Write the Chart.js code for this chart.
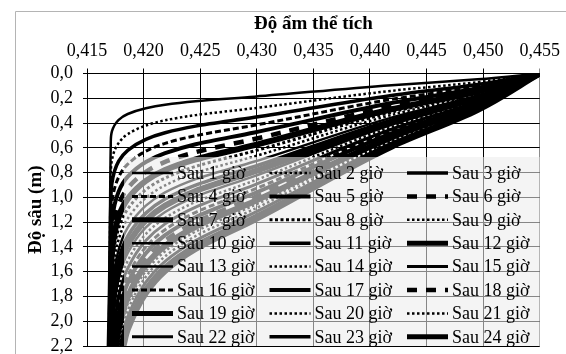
<!DOCTYPE html>
<html>
<head>
<meta charset="utf-8">
<script src="https://cdn.jsdelivr.net/npm/chart.js@4.4.0/dist/chart.umd.min.js"></script>
<style>
  html, body { margin: 0; padding: 0; background: #fff; }
</style>
</head>
<body>
<canvas id="myChart" width="566" height="354"></canvas>
<script>
// series names
const hours = [1, 2, 3, 4, 5, 6, 7, 8, 9, 10, 11, 12, 13, 14, 15, 16, 17, 18, 19, 20, 21, 22, 23, 24];

// depth (m) of each point, one list per series
const depths = [
  [0, 0.047, 0.094, 0.187, 0.224, 0.252, 0.281, 0.327, 0.374, 0.468, 0.561, 2.2],
  [0, 0.070, 0.140, 0.280, 0.336, 0.378, 0.420, 0.490, 0.560, 0.700, 0.840, 2.2],
  [0, 0.089, 0.177, 0.354, 0.425, 0.478, 0.531, 0.620, 0.708, 0.885, 1.062, 2.2],
  [0, 0.105, 0.209, 0.418, 0.502, 0.564, 0.627, 0.732, 0.836, 1.045, 1.254, 2.2],
  [0, 0.119, 0.238, 0.476, 0.571, 0.643, 0.714, 0.833, 0.952, 1.190, 1.428, 2.2],
  [0, 0.132, 0.265, 0.529, 0.635, 0.714, 0.794, 0.926, 1.058, 1.323, 1.587, 2.2],
  [0, 0.145, 0.289, 0.578, 0.694, 0.780, 0.867, 1.012, 1.156, 1.445, 1.734, 2.2],
  [0, 0.156, 0.313, 0.625, 0.750, 0.844, 0.938, 1.094, 1.250, 1.563, 1.875, 2.2],
  [0, 0.167, 0.335, 0.669, 0.803, 0.903, 1.004, 1.171, 1.338, 1.673, 2.007, 2.2],
  [0, 0.178, 0.356, 0.711, 0.853, 0.960, 1.067, 1.244, 1.422, 1.778, 2.133, 2.2],
  [0, 0.188, 0.376, 0.751, 0.901, 1.014, 1.127, 1.314, 1.502, 1.878, 2.2],
  [0, 0.198, 0.395, 0.790, 0.948, 1.067, 1.185, 1.383, 1.580, 1.975, 2.2],
  [0, 0.207, 0.414, 0.828, 0.994, 1.118, 1.242, 1.449, 1.656, 2.070, 2.2],
  [0, 0.216, 0.432, 0.864, 1.037, 1.166, 1.296, 1.512, 1.728, 2.160, 2.2],
  [0, 0.225, 0.450, 0.899, 1.079, 1.214, 1.349, 1.573, 1.798, 2.2],
  [0, 0.234, 0.467, 0.934, 1.121, 1.261, 1.401, 1.635, 1.868, 2.2],
  [0, 0.242, 0.484, 0.967, 1.160, 1.305, 1.451, 1.692, 1.934, 2.2],
  [0, 0.250, 0.500, 1.000, 1.200, 1.350, 1.500, 1.750, 2.000, 2.2],
  [0, 0.258, 0.516, 1.031, 1.237, 1.392, 1.547, 1.804, 2.062, 2.2],
  [0, 0.266, 0.532, 1.063, 1.276, 1.435, 1.595, 1.860, 2.126, 2.2],
  [0, 0.273, 0.547, 1.093, 1.312, 1.476, 1.640, 1.913, 2.2],
  [0, 0.281, 0.562, 1.123, 1.348, 1.516, 1.685, 1.965, 2.2],
  [0, 0.288, 0.576, 1.152, 1.382, 1.555, 1.728, 2.016, 2.2],
  [0, 0.295, 0.591, 1.181, 1.417, 1.594, 1.772, 2.067, 2.2]
];

// volumetric moisture at those depths
const moisture = [
  [0.455, 0.4495, 0.4419, 0.4298, 0.4246, 0.4219, 0.4202, 0.4186, 0.4178, 0.4172, 0.4171, 0.4170],
  [0.455, 0.4495, 0.4419, 0.4298, 0.4246, 0.4219, 0.4202, 0.4186, 0.4178, 0.4172, 0.4171, 0.4170],
  [0.455, 0.4495, 0.4419, 0.4298, 0.4246, 0.4219, 0.4202, 0.4186, 0.4178, 0.4172, 0.4171, 0.4170],
  [0.455, 0.4495, 0.4419, 0.4298, 0.4246, 0.4219, 0.4202, 0.4186, 0.4178, 0.4172, 0.4171, 0.4170],
  [0.455, 0.4495, 0.4419, 0.4298, 0.4246, 0.4219, 0.4202, 0.4186, 0.4178, 0.4172, 0.4171, 0.4170],
  [0.455, 0.4495, 0.4419, 0.4298, 0.4246, 0.4219, 0.4202, 0.4186, 0.4178, 0.4172, 0.4171, 0.4170],
  [0.455, 0.4495, 0.4419, 0.4298, 0.4246, 0.4219, 0.4202, 0.4186, 0.4178, 0.4172, 0.4171, 0.4170],
  [0.455, 0.4495, 0.4419, 0.4298, 0.4246, 0.4219, 0.4202, 0.4186, 0.4178, 0.4172, 0.4171, 0.4170],
  [0.455, 0.4495, 0.4419, 0.4298, 0.4246, 0.4219, 0.4202, 0.4186, 0.4178, 0.4172, 0.4171, 0.4170],
  [0.455, 0.4495, 0.4419, 0.4298, 0.4246, 0.4219, 0.4202, 0.4186, 0.4178, 0.4172, 0.4171, 0.4170],
  [0.455, 0.4495, 0.4419, 0.4298, 0.4246, 0.4219, 0.4202, 0.4186, 0.4178, 0.4172, 0.41712],
  [0.455, 0.4495, 0.4419, 0.4298, 0.4246, 0.4219, 0.4202, 0.4186, 0.4178, 0.4172, 0.41715],
  [0.455, 0.4495, 0.4419, 0.4298, 0.4246, 0.4219, 0.4202, 0.4186, 0.4178, 0.4172, 0.41716],
  [0.455, 0.4495, 0.4419, 0.4298, 0.4246, 0.4219, 0.4202, 0.4186, 0.4178, 0.4172, 0.41718],
  [0.455, 0.4495, 0.4419, 0.4298, 0.4246, 0.4219, 0.4202, 0.4186, 0.4178, 0.41728],
  [0.455, 0.4495, 0.4419, 0.4298, 0.4246, 0.4219, 0.4202, 0.4186, 0.4178, 0.41736],
  [0.455, 0.4495, 0.4419, 0.4298, 0.4246, 0.4219, 0.4202, 0.4186, 0.4178, 0.41743],
  [0.455, 0.4495, 0.4419, 0.4298, 0.4246, 0.4219, 0.4202, 0.4186, 0.4178, 0.41749],
  [0.455, 0.4495, 0.4419, 0.4298, 0.4246, 0.4219, 0.4202, 0.4186, 0.4178, 0.41756],
  [0.455, 0.4495, 0.4419, 0.4298, 0.4246, 0.4219, 0.4202, 0.4186, 0.4178, 0.41763],
  [0.455, 0.4495, 0.4419, 0.4298, 0.4246, 0.4219, 0.4202, 0.4186, 0.41775],
  [0.455, 0.4495, 0.4419, 0.4298, 0.4246, 0.4219, 0.4202, 0.4186, 0.41790],
  [0.455, 0.4495, 0.4419, 0.4298, 0.4246, 0.4219, 0.4202, 0.4186, 0.41806],
  [0.455, 0.4495, 0.4419, 0.4298, 0.4246, 0.4219, 0.4202, 0.4186, 0.41822]
];

// axis ticks
const xTicks = [0.415, 0.420, 0.425, 0.430, 0.435, 0.440, 0.445, 0.450, 0.455];
const yTicks = [0, 0.2, 0.4, 0.6, 0.8, 1.0, 1.2, 1.4, 1.6, 1.8, 2.0, 2.2];

// line look of each series: [width, dash]
const lineStyles = [
  [2.5, []], [2.5, [2.5, 2.5]], [3.5, []],
  [3, [6, 3]], [4, []], [4.5, [10, 9]],
  [6, []], [3, [3, 2.5]], [2.5, [2.5, 2.5]],
  [2.5, []], [3.5, []], [6, []],
  [2.5, []], [2.5, [2.5, 2.5]], [3, []],
  [3, [6, 3]], [4, []], [4.5, [10, 9]],
  [6, []], [2.5, [2.5, 2.5]], [2.5, [2.5, 2.5]],
  [3, []], [3.5, []], [6, []]
];

const serif = 'Liberation Serif, Times New Roman, serif';

const datasets = hours.map((h, i) => ({
  label: 'Sau ' + h + ' giờ',
  data: depths[i].map((d, j) => ({ x: moisture[i][j], y: d })),
  borderColor: '#000',
  borderWidth: lineStyles[i][0],
  borderDash: lineStyles[i][1],
  borderCapStyle: 'butt',
  pointRadius: 0,
  fill: false,
  cubicInterpolationMode: 'monotone'
}));

// frame + legend drawn on top of the curves (semi transparent box like the original)
const overlay = {
  id: 'overlay',
  afterDraw(chart) {
    const ctx = chart.ctx;
    const area = chart.chartArea;
    ctx.save();
    ctx.strokeStyle = '#b4b4b4';
    ctx.lineWidth = 1;
    ctx.beginPath();
    ctx.moveTo(15.5, 354);
    ctx.lineTo(15.5, 11.5);
    ctx.lineTo(566, 11.5);
    ctx.stroke();

    const boxLeft = 124, boxTop = 157;
    ctx.fillStyle = 'rgba(235,235,235,0.57)';
    ctx.fillRect(boxLeft, boxTop, area.right - boxLeft, area.bottom - boxTop);

    ctx.font = '18px ' + serif;
    ctx.textBaseline = 'middle';
    chart.data.datasets.forEach((ds, i) => {
      const x = 132 + (i % 3) * 137.5;
      const y = 173 + Math.floor(i / 3) * 23.4;
      ctx.strokeStyle = '#000';
      ctx.lineWidth = Math.min(ds.borderWidth, 5);
      ctx.setLineDash(ds.borderDash);
      ctx.beginPath();
      ctx.moveTo(x, y);
      ctx.lineTo(x + 41, y);
      ctx.stroke();
      ctx.setLineDash([]);
      ctx.fillStyle = '#000';
      ctx.fillText(ds.label, x + 45, y + 1);
    });
    ctx.restore();
  }
};

new Chart(document.getElementById('myChart'), {
  type: 'line',
  data: { datasets: datasets },
  plugins: [overlay],
  options: {
    responsive: false,
    animation: false,
    indexAxis: 'y',
    layout: { padding: { left: 0, top: 0, right: 26, bottom: 8 } },
    plugins: {
      legend: { display: false },
      tooltip: { enabled: false }
    },
    scales: {
      x: {
        type: 'linear',
        position: 'top',
        min: 0.415,
        max: 0.455,
        afterFit: (scale) => { scale.height = 73.5; },
        afterBuildTicks: (scale) => { scale.ticks = xTicks.map(v => ({ value: v })); },
        ticks: {
          color: '#000',
          padding: 6,
          autoSkip: false,
          maxRotation: 0,
          font: { family: serif, size: 18 },
          callback: (v) => Number(v).toFixed(3).replace('.', ',')
        },
        grid: {
          color: (c) => c.index === xTicks.length - 1 ? '#8c8c8c' : '#000',
          lineWidth: 1,
          tickLength: 5
        },
        border: { color: '#000' },
        title: {
          display: true,
          text: 'Độ ẩm thể tích',
          color: '#000',
          font: { family: serif, size: 19, weight: 'bold' },
          padding: { top: 13, bottom: 0 }
        }
      },
      y: {
        type: 'linear',
        reverse: true,
        min: 0,
        max: 2.2,
        afterFit: (scale) => {
          scale.width = 87;
          scale.paddingTop = 0;
          scale.paddingBottom = 0;
        },
        afterBuildTicks: (scale) => { scale.ticks = yTicks.map(v => ({ value: v })); },
        ticks: {
          color: '#000',
          padding: 10,
          autoSkip: false,
          font: { family: serif, size: 18 },
          callback: (v) => Number(v).toFixed(1).replace('.', ',')
        },
        grid: { color: '#000', lineWidth: 1, tickLength: 4 },
        border: { color: '#000' },
        title: {
          display: true,
          text: 'Độ sâu (m)',
          color: '#000',
          font: { family: serif, size: 19, weight: 'bold' },
          padding: { top: 25, bottom: 0 }
        }
      }
    }
  }
});
</script>
</body>
</html>
